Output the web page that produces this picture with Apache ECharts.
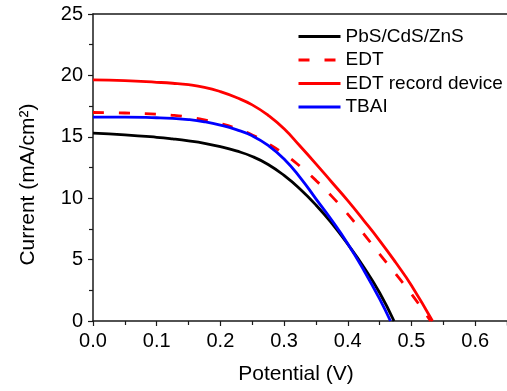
<!DOCTYPE html>
<html>
<head>
<meta charset="utf-8">
<script src="https://cdn.jsdelivr.net/npm/echarts@6/dist/echarts.min.js"></script>
<style>
html,body{margin:0;padding:0;background:#fff;}
#chart{width:507px;height:391px;}
</style>
</head>
<body>
<div id="chart"></div>
<script>
// Series names
var seriesNames = ['PbS/CdS/ZnS', 'EDT', 'EDT record device', 'TBAI'];

// PbS/CdS/ZnS (black)
var blackV = [0, 0.05, 0.10, 0.125, 0.15, 0.175, 0.20, 0.225, 0.25, 0.275, 0.30, 0.325, 0.35, 0.375, 0.40, 0.425, 0.45, 0.4726];
var blackJ = [15.3, 15.16, 14.96, 14.83, 14.67, 14.47, 14.2, 13.85, 13.4, 12.75, 11.85, 10.75, 9.45, 7.95, 6.25, 4.4, 2.3, 0];

// EDT (red dashed)
var edtV = [0, 0.05, 0.10, 0.125, 0.15, 0.175, 0.20, 0.225, 0.25, 0.275, 0.30, 0.325, 0.35, 0.375, 0.40, 0.425, 0.45, 0.475, 0.50, 0.530];
var edtJ = [16.98, 16.94, 16.84, 16.75, 16.6, 16.38, 16.08, 15.68, 15.15, 14.45, 13.6, 12.6, 11.45, 10.15, 8.7, 7.1, 5.45, 3.85, 2.2, 0];

// EDT record device (red solid)
var recV = [0, 0.05, 0.10, 0.125, 0.15, 0.175, 0.20, 0.225, 0.25, 0.275, 0.30, 0.325, 0.35, 0.375, 0.40, 0.425, 0.45, 0.475, 0.50, 0.533];
var recJ = [19.64, 19.57, 19.44, 19.36, 19.24, 19.03, 18.68, 18.2, 17.6, 16.75, 15.65, 14.25, 12.8, 11.3, 9.8, 8.2, 6.55, 4.78, 2.9, 0];

// TBAI (blue)
var tbaiV = [0, 0.05, 0.10, 0.125, 0.15, 0.175, 0.20, 0.225, 0.25, 0.275, 0.30, 0.325, 0.35, 0.375, 0.40, 0.425, 0.45, 0.467];
var tbaiJ = [16.6, 16.6, 16.55, 16.5, 16.4, 16.22, 15.95, 15.58, 15.08, 14.3, 13.2, 11.7, 9.95, 8.2, 6.3, 4.15, 1.8, 0];

// Axis ticks
var xTicks = { min: 0, max: 0.65, interval: 0.1 };
var yTicks = { min: 0, max: 25, interval: 5 };

function pairs(v, j) { return v.map(function (x, i) { return [x, j[i]]; }); }

var FONT = '"Liberation Sans", Arial, sans-serif';
var chart = echarts.init(document.getElementById('chart'), null, { renderer: 'canvas' });

var axisLine = { show: true, lineStyle: { color: '#1a1a1a', width: 1.5 } };

chart.setOption({
  animation: false,
  backgroundColor: '#ffffff',
  grid: { left: 93, top: 14, width: 417, height: 307, containLabel: false },
  legend: {
    left: 297, top: 27, orient: 'vertical', padding: 0,
    itemWidth: 42, itemHeight: 14, itemGap: 4.5,
    itemStyle: { opacity: 0, color: 'transparent', borderWidth: 0 },
    lineStyle: { width: 3 },
    textStyle: { fontFamily: FONT, fontSize: 19, color: '#000' },
    data: seriesNames
  },
  xAxis: [{
    type: 'value', min: xTicks.min, max: xTicks.max, interval: xTicks.interval,
    name: 'Potential (V)', nameLocation: 'middle', nameGap: 43,
    nameTextStyle: { fontFamily: FONT, fontSize: 21, color: '#000', padding: [0, 8, 0, 0] },
    axisLine: axisLine,
    axisTick: { show: true, inside: false, length: 5, lineStyle: { color: '#1a1a1a', width: 1.2 } },
    minorTick: { show: true, splitNumber: 2, length: 4, lineStyle: { color: '#1a1a1a', width: 1.2 } },
    axisLabel: { fontFamily: FONT, fontSize: 20, color: '#000', margin: 10, showMaxLabel: false,
      formatter: function (v) { return v.toFixed(1); } },
    splitLine: { show: false }
  }, {
    type: 'value', position: 'top', min: xTicks.min, max: xTicks.max, interval: xTicks.interval,
    axisLine: axisLine, axisTick: { show: false }, axisLabel: { show: false }, splitLine: { show: false }
  }],
  yAxis: {
    type: 'value', min: yTicks.min, max: yTicks.max, interval: yTicks.interval,
    name: 'Current (mA/cm²)', nameLocation: 'middle', nameGap: 54,
    nameTextStyle: { fontFamily: FONT, fontSize: 21, color: '#000', padding: [0, 34, 0, 0] },
    axisLine: axisLine,
    axisTick: { show: true, inside: false, length: 5, lineStyle: { color: '#1a1a1a', width: 1.2 } },
    minorTick: { show: true, splitNumber: 2, length: 4, lineStyle: { color: '#1a1a1a', width: 1.2 } },
    axisLabel: { fontFamily: FONT, fontSize: 20, color: '#000', margin: 10 },
    splitLine: { show: false }
  },
  series: [
    { name: seriesNames[0], type: 'line', data: pairs(blackV, blackJ), smooth: 0.5, symbol: 'none',
      lineStyle: { color: '#000000', width: 2.8 }, itemStyle: { color: '#000000' }, z: 3 },
    { name: seriesNames[1], type: 'line', data: pairs(edtV, edtJ), smooth: 0.5, symbol: 'none',
      lineStyle: { color: '#ff0000', width: 2.8, type: [11, 15] }, itemStyle: { color: '#ff0000' }, z: 2 },
    { name: seriesNames[2], type: 'line', data: pairs(recV, recJ), smooth: 0.5, symbol: 'none',
      lineStyle: { color: '#ff0000', width: 2.8 }, itemStyle: { color: '#ff0000' }, z: 2 },
    { name: seriesNames[3], type: 'line', data: pairs(tbaiV, tbaiJ), smooth: 0.5, symbol: 'none',
      lineStyle: { color: '#0000ff', width: 2.8 }, itemStyle: { color: '#0000ff' }, z: 4 }
  ]
});
</script>
</body>
</html>
